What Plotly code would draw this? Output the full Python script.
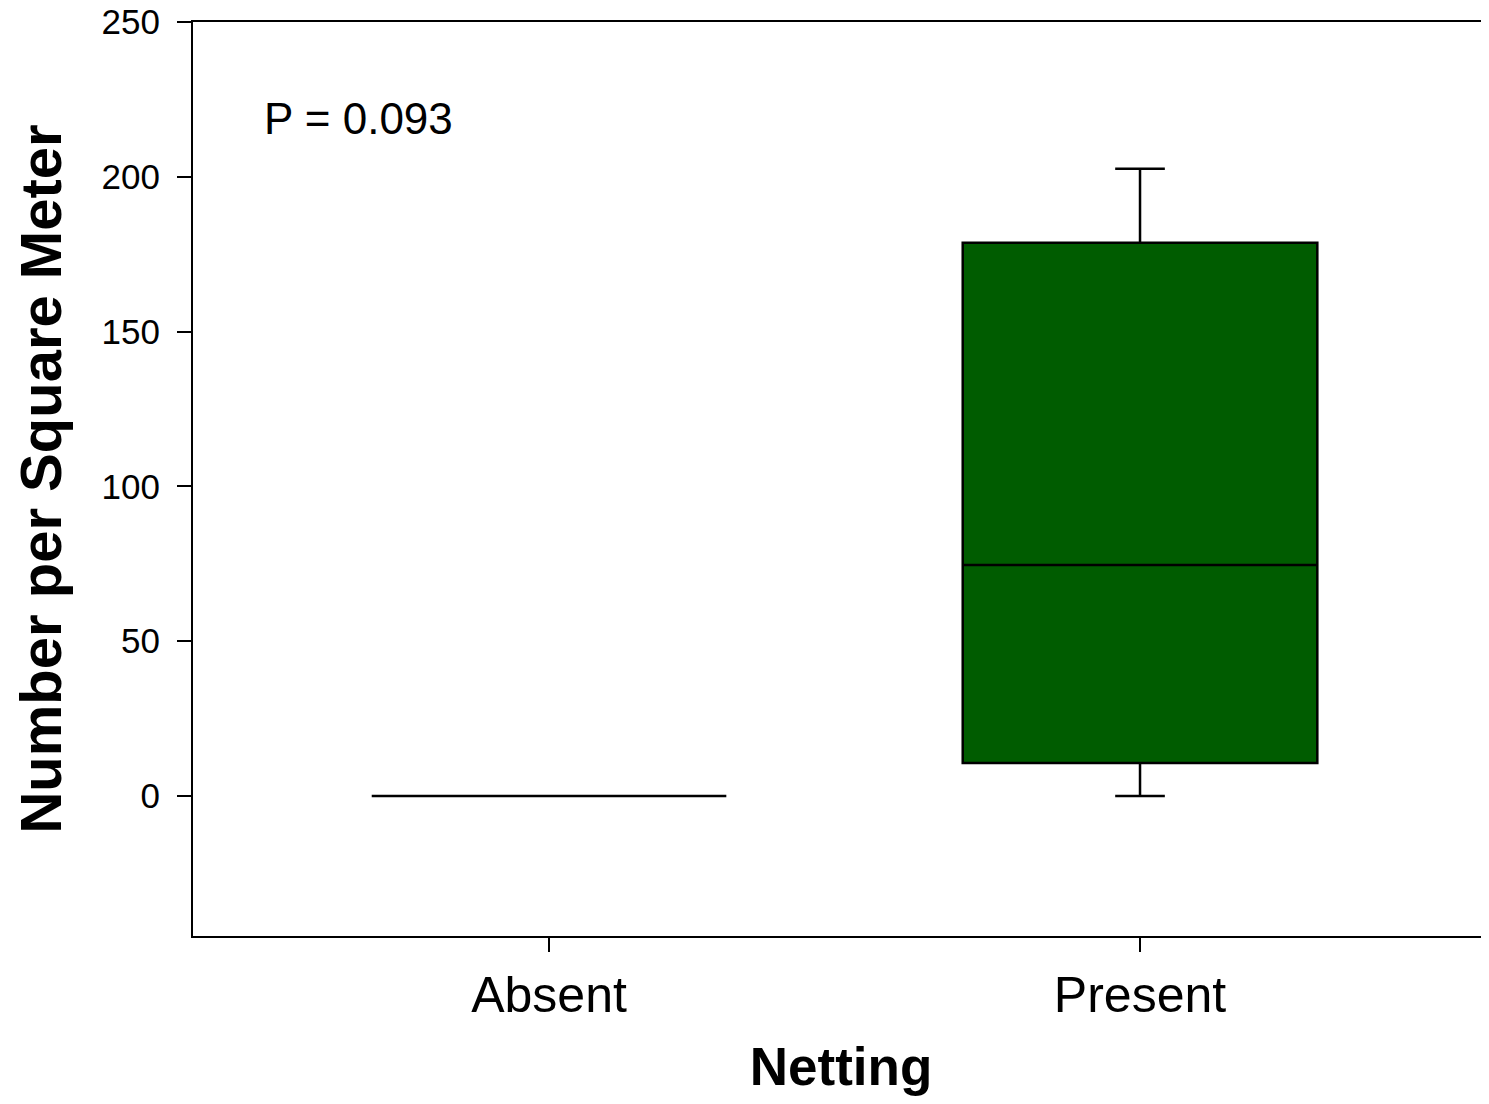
import plotly.graph_objects as go

# datos
netting = ["Absent", "Present"]
q1 = [0, 10.7]
mediana = [0, 74.6]
q3 = [0, 178.7]
bigote_inf = [0, 0]
bigote_sup = [0, 202.6]
y_ticks = [0, 50, 100, 150, 200, 250]

fuente = "Liberation Sans, Arial, sans-serif"

fig = go.Figure()
fig.add_trace(go.Box(
    x=netting, q1=q1, median=mediana, q3=q3,
    lowerfence=bigote_inf, upperfence=bigote_sup,
    fillcolor="#005C00",
    line=dict(color="black", width=2.5),
    width=0.6, whiskerwidth=0.14,
    boxpoints=False, showlegend=False,
))

fig.add_annotation(
    text="P = 0.093", xref="paper", yref="paper",
    x=0.053, y=0.894, xanchor="left", yanchor="middle",
    showarrow=False, font=dict(size=44, color="black", family=fuente),
)

# la pagina deja 8px de margen, por eso el tamaño es algo menor
fig.update_layout(
    width=1481, height=1088,
    margin=dict(l=185, r=0, t=14, b=160),
    plot_bgcolor="white", paper_bgcolor="white",
    font=dict(family=fuente, color="black"),
)
fig.update_xaxes(
    type="category", range=[-0.6024, 1.5905],
    showline=True, linecolor="black", linewidth=2, mirror=True,
    ticks="outside", ticklen=14, tickwidth=2, tickcolor="black",
    tickfont=dict(size=50), ticklabelstandoff=0, automargin=False,
    showgrid=False, zeroline=False,
    title=dict(text="<b>Netting</b>", font=dict(size=53), standoff=35),
)
fig.update_yaxes(
    range=[-45.2, 250], tickvals=y_ticks,
    showline=True, linecolor="black", linewidth=2, mirror=False,
    ticks="outside", ticklen=14, tickwidth=2, tickcolor="black",
    tickfont=dict(size=35), ticklabelstandoff=10, ticklabeloverflow="allow",
    automargin=False,
    showgrid=False, zeroline=False,
    title=dict(text="<b>Number per Square Meter</b>", font=dict(size=58), standoff=34),
)

fig.write_html("out.html")
